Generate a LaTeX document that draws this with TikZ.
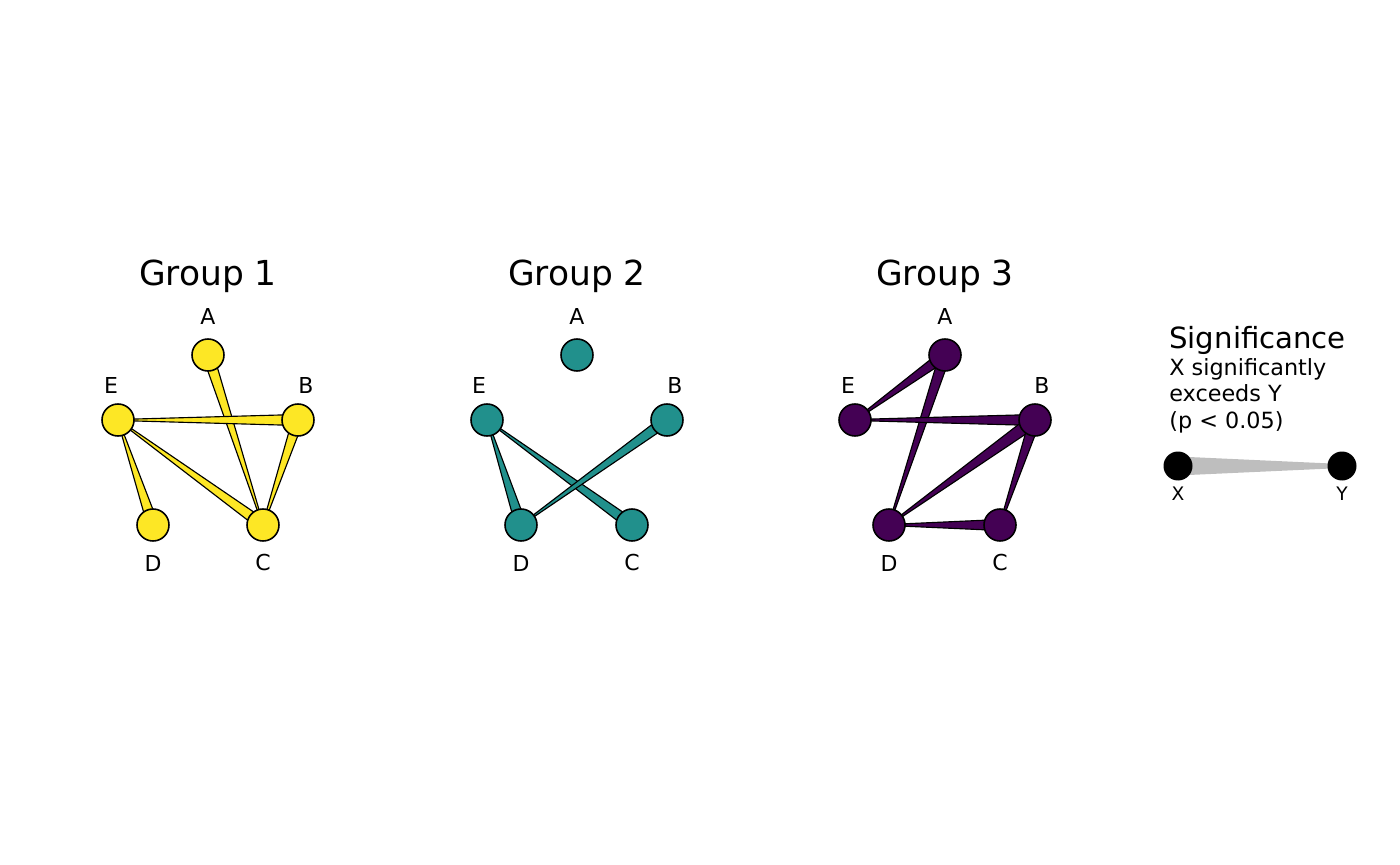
\documentclass[tikz,border=0pt]{standalone}
\usepackage{fontspec}
\setmainfont{DejaVu Sans}
\usepackage{tikz}
\usetikzlibrary{calc, backgrounds}
\definecolor{grpyellow}{HTML}{FDE725}
\definecolor{grpteal}{HTML}{21908C}
\definecolor{grppurple}{HTML}{440154}
\definecolor{keygray}{HTML}{BEBEBE}

% tapered link: wide at the winner (#2), thin at the loser (#3)
\newcommand{\taperlink}[4][0.11cm]{%
  \filldraw[wedge, fill=#4]
    ($(#2.center)!#1!90:(#3.center)$) -- ($(#3.center)!0.01cm!-90:(#2.center)$)
    -- ($(#3.center)!0.01cm!90:(#2.center)$) -- ($(#2.center)!#1!-90:(#3.center)$) -- cycle;}

\begin{document}
\begin{tikzpicture}[
  x=0.02cm, y=-0.02cm,
  % all positions below are in pixels of the 1400 x 865 frame
  gnode/.style={circle, draw=black, fill=#1, line width=0.9pt,
                minimum size=0.64cm, inner sep=0pt},
  keynode/.style={circle, fill=black, minimum size=0.58cm, inner sep=0pt},
  wedge/.style={draw=black, line width=0.65pt, line join=round},
  grptitle/.style={font=\fontsize{19.6}{23}\selectfont},
  lbl/.style={font=\fontsize{12.5}{15}\selectfont, inner sep=0pt},
  keylbl/.style={font=\fontsize{10.6}{12}\selectfont, inner sep=0pt}
]
\useasboundingbox (0,0) rectangle (1400,865);

% Group 1
\node[grptitle] (title1) at (208,276) {Group 1};
\node[gnode=grpyellow] (A1) at (208,355) {};
\node[gnode=grpyellow] (B1) at (298,420) {};
\node[gnode=grpyellow] (C1) at (263,525) {};
\node[gnode=grpyellow] (D1) at (153,525) {};
\node[gnode=grpyellow] (E1) at (118,420) {};
\node[lbl] (labA1) at (208,316) {A};
\node[lbl] (labB1) at (306,385) {B};
\node[lbl] (labC1) at (263,563) {C};
\node[lbl] (labD1) at (153,563) {D};
\node[lbl] (labE1) at (111,385) {E};

% Group 2
\node[grptitle] (title2) at (577,276) {Group 2};
\node[gnode=grpteal] (A2) at (577,355) {};
\node[gnode=grpteal] (B2) at (667,420) {};
\node[gnode=grpteal] (C2) at (632,525) {};
\node[gnode=grpteal] (D2) at (521,525) {};
\node[gnode=grpteal] (E2) at (487,420) {};
\node[lbl] (labA2) at (577,316) {A};
\node[lbl] (labB2) at (675,385) {B};
\node[lbl] (labC2) at (632,563) {C};
\node[lbl] (labD2) at (521,563) {D};
\node[lbl] (labE2) at (479,385) {E};

% Group 3
\node[grptitle] (title3) at (945,276) {Group 3};
\node[gnode=grppurple] (A3) at (945,355) {};
\node[gnode=grppurple] (B3) at (1035,420) {};
\node[gnode=grppurple] (C3) at (1000,525) {};
\node[gnode=grppurple] (D3) at (889,525) {};
\node[gnode=grppurple] (E3) at (855,420) {};
\node[lbl] (labA3) at (945,316) {A};
\node[lbl] (labB3) at (1042,385) {B};
\node[lbl] (labC3) at (1000,563) {C};
\node[lbl] (labD3) at (889,563) {D};
\node[lbl] (labE3) at (848,385) {E};

% Legend
\node[anchor=west, inner sep=0pt, font=\fontsize{16.6}{20}\selectfont]
    (keytitle) at (1169,340) {Significance};
\node[anchor=north west, inner sep=0pt, align=left,
      font=\fontsize{12.7}{15}\selectfont]
    (keytext) at (1169,358) {X significantly\\exceeds Y\\(p < 0.05)};
\node[keynode] (keyX) at (1178,466) {};
\node[keynode] (keyY) at (1342,466) {};
\node[keylbl] (labX) at (1178,494) {X};
\node[keylbl] (labY) at (1342,494) {Y};

% Links go underneath the nodes
\begin{scope}[on background layer]
  \taperlink{A1}{C1}{grpyellow}
  \taperlink{B1}{E1}{grpyellow}
  \taperlink{B1}{C1}{grpyellow}
  \taperlink{D1}{E1}{grpyellow}
  \taperlink{C1}{E1}{grpyellow}

  \taperlink{D2}{E2}{grpteal}
  \taperlink{C2}{E2}{grpteal}
  \taperlink{B2}{D2}{grpteal}

  \taperlink{A3}{E3}{grppurple}
  \taperlink{A3}{D3}{grppurple}
  \taperlink{B3}{E3}{grppurple}
  \taperlink[0.13cm]{B3}{D3}{grppurple}
  \taperlink{B3}{C3}{grppurple}
  \taperlink{C3}{D3}{grppurple}

  \fill[keygray] ($(keyX.center)!0.19cm!90:(keyY.center)$) -- ($(keyY.center)!0.04cm!-90:(keyX.center)$)
    -- ($(keyY.center)!0.04cm!90:(keyX.center)$) -- ($(keyX.center)!0.19cm!-90:(keyY.center)$) -- cycle;
\end{scope}

\end{tikzpicture}
\end{document}
